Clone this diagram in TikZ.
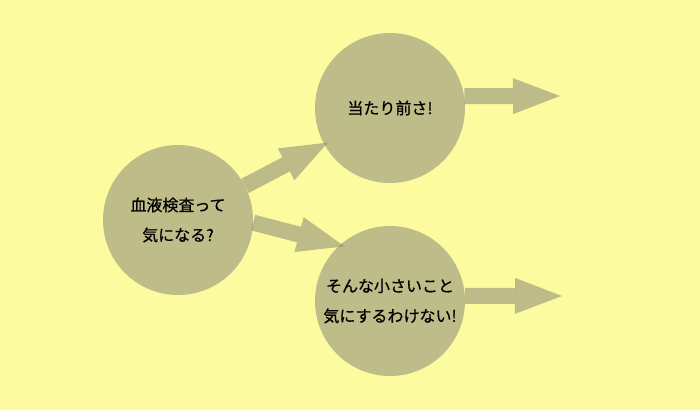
\documentclass[tikz,border=0pt]{standalone}
\usepackage{fontspec}
\setmainfont{Noto Sans CJK JP}[FakeBold=0.6]
\usetikzlibrary{arrows.meta}
\definecolor{bgyellow}{RGB}{253,251,160}
\definecolor{bubble}{RGB}{190,188,136}
\definecolor{arrowc}{RGB}{127,125,112}
\tikzset{
  bubblenode/.style={circle, fill=bubble, minimum size=150pt, inner sep=0pt,
    align=center, font=\fontsize{16}{30}\selectfont, text=black},
  blockarrow/.style={draw=arrowc, opacity=0.5, line width=16pt,
    -{Triangle[length=47pt,width=36pt,line width=0pt]}}
}
\begin{document}
\begin{tikzpicture}[x=1pt,y=-1pt]
\fill[bgyellow] (0,0) rectangle (700,410);
\useasboundingbox (0,0) rectangle (700,410);
\node[bubblenode] (L) at (178,220) {血液検査って\\気になる?};
\node[bubblenode] (T) at (390,108) {当たり前さ!};
\node[bubblenode] (B) at (390,301) {そんな小さいこと\\気にするわけない!};
\coordinate (TE) at (560,96);
\coordinate (BE) at (562,296);
\draw[blockarrow, shorten >=-4pt] (L.27) -- (T.209);
\draw[blockarrow, shorten >=-5pt] (L.-2) -- (B.132);
\draw[blockarrow] (T.9) -- (TE);
\draw[blockarrow] (B.4) -- (BE);
\end{tikzpicture}
\end{document}
